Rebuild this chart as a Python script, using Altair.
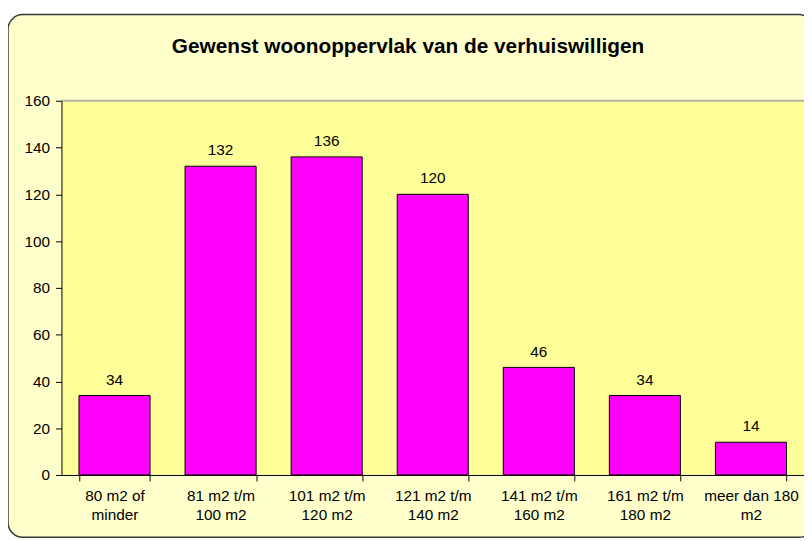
import altair as alt
import pandas as pd

categories = [
    "80 m2 of\nminder",
    "81 m2 t/m\n100 m2",
    "101 m2 t/m\n120 m2",
    "121 m2 t/m\n140 m2",
    "141 m2 t/m\n160 m2",
    "161 m2 t/m\n180 m2",
    "meer dan 180\nm2",
]
values = [34, 132, 136, 120, 46, 34, 14]
y_ticks = [0, 20, 40, 60, 80, 100, 120, 140, 160]
title_text = "Gewenst woonoppervlak van de verhuiswilligen"

FONT = "Liberation Sans"
W, H = 750, 378

df = pd.DataFrame({"cat": categories, "val": values})
one = alt.Data(values=[{"k": 1}])
title_df = pd.DataFrame({"t": [title_text]})

x_enc = alt.X(
    "cat:N",
    sort=categories,
    scale=alt.Scale(paddingInner=0.33, paddingOuter=0.165),
    axis=alt.Axis(
        title=None,
        labelAngle=0,
        labelExpr="split(datum.label, '\\n')",
        labelLineHeight=19,
        labelFont=FONT,
        labelFontSize=15.5,
        labelColor="#000000",
        labelPadding=8,
        tickBand="extent",
        tickSize=6,
        tickColor="#000000",
        domainColor="#000000",
        labelBound=False,
        labelOverlap=False,
        zindex=2,
    ),
)
y_enc = alt.Y(
    "val:Q",
    scale=alt.Scale(domain=[0, 160], nice=False),
    axis=alt.Axis(
        title=None,
        values=y_ticks,
        grid=False,
        labelFont=FONT,
        labelFontSize=15.5,
        labelColor="#000000",
        labelPadding=6,
        tickSize=6,
        tickColor="#000000",
        domainColor="#000000",
        zindex=2,
    ),
)

frame = alt.Chart(one).mark_rect(
    fill="#FFFFCC", stroke="#3a3a3a", strokeWidth=1.5, cornerRadius=15
).encode(
    x=alt.value(-54), x2=alt.value(760), y=alt.value(-87), y2=alt.value(441)
)

plotbg = alt.Chart(one).mark_rect(fill="#FFFF99").encode(
    x=alt.value(0), x2=alt.value(W), y=alt.value(0), y2=alt.value(H)
)

topline = alt.Chart(one).mark_rule(color="#B4B4A0", strokeWidth=2).encode(
    x=alt.value(0), x2=alt.value(W), y=alt.value(0)
)

title = alt.Chart(title_df).mark_text(
    font=FONT, fontSize=21, fontWeight="bold", color="#000000",
    align="center", baseline="middle"
).encode(x=alt.value(350), y=alt.value(-54), text="t:N")

bars = alt.Chart(df).mark_bar(
    color="#FF00FF", stroke="#000000", strokeWidth=1
).encode(x=x_enc, y=y_enc)

labels = alt.Chart(df).mark_text(
    font=FONT, fontSize=15.5, color="#000000", baseline="middle", dy=-16
).encode(x=alt.X("cat:N", sort=categories), y="val:Q", text="val:Q")

chart = (
    alt.layer(frame, plotbg, topline, title, bars, labels)
    .properties(
        width=W,
        height=H,
        autosize=alt.AutoSizeParams(type="none"),
        padding={"left": 54, "right": 0, "top": 91, "bottom": 64},
        background="#FFFFFF",
    )
    .configure_view(strokeWidth=0)
)

chart.save("out.html", embed_options={"renderer": "svg", "actions": False})
